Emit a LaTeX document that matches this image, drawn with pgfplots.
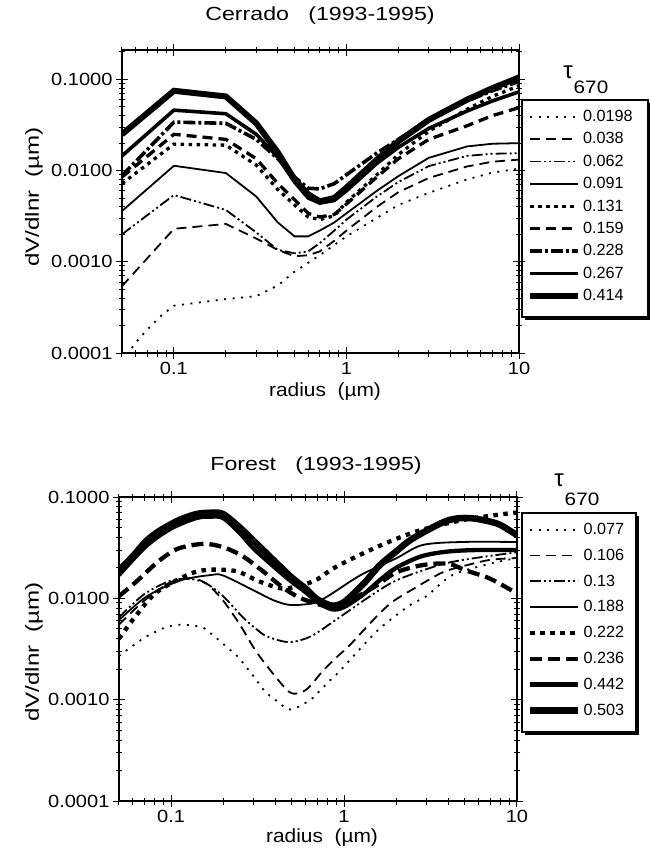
\documentclass[border=0pt]{standalone}
\usepackage{pgfplots}
\pgfplotsset{compat=1.18}
\usepackage{graphicx}
\usepackage{fontspec}
\setmainfont{Liberation Sans}
\newcommand\sx[2]{\scalebox{#1}[1]{#2}}
\tikzset{
 tdot/.style={black,line width=1.8pt, dash pattern=on 2pt off 6.5pt},
 tdash/.style={black,line width=1.8pt, dash pattern=on 10pt off 6pt},
 tdd/.style={black,line width=1.8pt, dash pattern=on 11pt off 3pt on 2pt off 3pt on 2pt off 3pt},
 tsol/.style={black,line width=1.8pt},
 Tdot/.style={black,line width=3.3pt, dash pattern=on 3.5pt off 4.5pt},
 Tdash/.style={black,line width=3.3pt, dash pattern=on 10pt off 6pt},
 Tdd/.style={black,line width=3.6pt, dash pattern=on 12pt off 3pt on 3pt off 3pt},
 Tsol/.style={black,line width=3.6pt},
 TTsol/.style={black,line width=6pt},
 Fdot/.style={black,line width=4.3pt, dash pattern=on 4.5pt off 5.5pt},
 Fdash/.style={black,line width=4.3pt, dash pattern=on 12pt off 6pt},
 Fsol/.style={black,line width=4.3pt},
 FFsol/.style={black,line width=6.5pt},
}
\begin{document}
\begin{tikzpicture}
\path[use as bounding box] (0pt,0pt) rectangle (649pt,-853pt);
% legend frames with shadow
\fill[black] (525pt,-103pt) rectangle (651pt,-320pt);
\draw[line width=1.4pt, fill=white] (522pt,-100pt) rectangle (648pt,-317pt);
\fill[black] (525pt,-516pt) rectangle (639pt,-735pt);
\draw[line width=1.4pt, fill=white] (522pt,-513pt) rectangle (636pt,-732pt);
% ---------- Cerrado ----------
\begin{axis}[at={(122pt,-353pt)}, anchor=south west, width=397pt, height=303pt,
 scale only axis, xmode=log, ymode=log, xmin=0.05, xmax=10,
 ymin=0.0001, ymax=0.21,
 axis line style={line width=1.4pt},
 xtick={0.1,1,10}, xticklabels={\sx{1.14}{0.1},\sx{1.14}{1},\sx{1.14}{10}},
 minor xtick={0.05,0.06,0.07,0.08,0.09,0.2,0.3,0.4,0.5,0.6,0.7,0.8,0.9,2,3,4,5,6,7,8,9},
 ytick={0.0001,0.001,0.01,0.1}, yticklabels={\sx{1.14}{0.0001},\sx{1.14}{0.0010},\sx{1.14}{0.0100},\sx{1.14}{0.1000}},
 minor ytick={0.0002,0.0003,0.0004,0.0005,0.0006,0.0007,0.0008,0.0009,0.002,0.003,0.004,0.005,0.006,0.007,0.008,0.009,0.02,0.03,0.04,0.05,0.06,0.07,0.08,0.09,0.2},
 tick align=center, major tick length=12pt, minor tick length=7pt,
 tick style={black, line width=1pt},
 ticklabel style={font=\fontsize{17.6}{17.6}\selectfont},
 legend image code/.code={\draw[#1] (0pt,0pt) -- (48pt,0pt);},
 legend cell align=left,
 legend style={at={(1,1)}, anchor=north west, xshift=3pt, yshift=-50pt, draw=none, fill=none,
  font=\fontsize{16.2}{16.2}\selectfont, inner xsep=5pt, inner ysep=8pt, row sep=5.6pt}]
\addplot[tdot] coordinates {(0.05,0.00008) (0.06,0.00013) (0.07,0.00018) (0.085,0.00026) (0.1,0.00033) (0.2,0.00039) (0.3,0.00042) (0.4,0.00055) (0.5,0.00078) (0.7,0.00118) (1,0.0019) (2,0.0042) (3,0.0057) (5,0.008) (7,0.0095) (10,0.0105)};
\addlegendentry{0.0198}
\addplot[tdash] coordinates {(0.05,0.00054) (0.1,0.0023) (0.2,0.0026) (0.3,0.0018) (0.4,0.00135) (0.5,0.00115) (0.6,0.00118) (0.7,0.0013) (0.85,0.0017) (1,0.0022) (1.5,0.0040) (2,0.0058) (3,0.0083) (5,0.0111) (7,0.0125) (10,0.0132)};
\addlegendentry{0.038}
\addplot[tdd] coordinates {(0.05,0.0020) (0.1,0.0054) (0.2,0.0037) (0.3,0.0021) (0.4,0.00135) (0.5,0.00124) (0.6,0.0013) (0.7,0.0016) (0.85,0.0022) (1,0.0029) (1.5,0.0052) (2,0.0075) (3,0.0112) (5,0.0145) (7,0.0153) (10,0.0155)};
\addlegendentry{0.062}
\addplot[tsol] coordinates {(0.05,0.0036) (0.1,0.0113) (0.2,0.0094) (0.3,0.0052) (0.4,0.0027) (0.5,0.0019) (0.6,0.0019) (0.7,0.0022) (0.85,0.0027) (1,0.0034) (1.5,0.006) (2,0.0087) (3,0.0138) (5,0.0184) (7,0.0197) (10,0.020)};
\addlegendentry{0.091}
\addplot[Tdot] coordinates {(0.05,0.0072) (0.1,0.0195) (0.2,0.019) (0.3,0.0115) (0.4,0.0062) (0.5,0.0042) (0.6,0.0031) (0.7,0.0029) (0.85,0.0032) (1,0.0045) (1.5,0.009) (2,0.015) (3,0.027) (5,0.047) (7,0.065) (10,0.085)};
\addlegendentry{0.131}
\addplot[Tdash] coordinates {(0.05,0.0085) (0.1,0.025) (0.2,0.022) (0.3,0.0135) (0.4,0.0072) (0.5,0.0048) (0.6,0.0034) (0.7,0.0031) (0.85,0.0033) (1,0.0043) (1.5,0.0085) (2,0.0135) (3,0.022) (5,0.031) (7,0.040) (10,0.049)};
\addlegendentry{0.159}
\addplot[Tdd] coordinates {(0.05,0.0088) (0.1,0.034) (0.2,0.033) (0.3,0.022) (0.4,0.0135) (0.5,0.0085) (0.6,0.0064) (0.7,0.0063) (0.85,0.0072) (1,0.009) (1.5,0.0156) (2,0.022) (3,0.036) (5,0.058) (7,0.075) (10,0.095)};
\addlegendentry{0.228}
\addplot[Tsol] coordinates {(0.05,0.0145) (0.1,0.046) (0.2,0.042) (0.3,0.025) (0.4,0.014) (0.5,0.0075) (0.6,0.005) (0.7,0.0044) (0.85,0.0047) (1,0.006) (1.5,0.012) (2,0.018) (3,0.029) (5,0.045) (7,0.058) (10,0.073)};
\addlegendentry{0.267}
\addplot[TTsol] coordinates {(0.05,0.025) (0.1,0.075) (0.2,0.065) (0.3,0.033) (0.4,0.0158) (0.5,0.008) (0.6,0.0055) (0.7,0.0046) (0.85,0.0050) (1,0.0065) (1.5,0.0132) (2,0.021) (3,0.036) (5,0.060) (7,0.080) (10,0.105)};
\addlegendentry{0.414}
\end{axis}
% ---------- Forest ----------
\begin{axis}[at={(119pt,-801pt)}, anchor=south west, width=398pt, height=304pt,
 scale only axis, xmode=log, ymode=log, xmin=0.05, xmax=10,
 ymin=0.0001, ymax=0.1,
 axis line style={line width=1.4pt},
 xtick={0.1,1,10}, xticklabels={\sx{1.14}{0.1},\sx{1.14}{1},\sx{1.14}{10}},
 minor xtick={0.05,0.06,0.07,0.08,0.09,0.2,0.3,0.4,0.5,0.6,0.7,0.8,0.9,2,3,4,5,6,7,8,9},
 ytick={0.0001,0.001,0.01,0.1}, yticklabels={\sx{1.14}{0.0001},\sx{1.14}{0.0010},\sx{1.14}{0.0100},\sx{1.14}{0.1000}},
 minor ytick={0.0002,0.0003,0.0004,0.0005,0.0006,0.0007,0.0008,0.0009,0.002,0.003,0.004,0.005,0.006,0.007,0.008,0.009,0.02,0.03,0.04,0.05,0.06,0.07,0.08,0.09},
 tick align=center, major tick length=12pt, minor tick length=7pt,
 tick style={black, line width=1pt},
 ticklabel style={font=\fontsize{17.6}{17.6}\selectfont},
 legend image code/.code={\draw[#1] (0pt,0pt) -- (48pt,0pt);},
 legend cell align=left,
 legend style={at={(1,1)}, anchor=north west, xshift=5pt, yshift=-16pt, draw=none, fill=none,
  font=\fontsize{16.2}{16.2}\selectfont, inner xsep=5pt, inner ysep=8pt, row sep=9pt}]
\addplot[tdot, smooth] coordinates {(0.05,0.0027) (0.06,0.0034) (0.072,0.0042) (0.094,0.0052) (0.115,0.0055) (0.15,0.0052) (0.17,0.0045) (0.215,0.0032) (0.246,0.0026) (0.3,0.0017) (0.35,0.0012) (0.4,0.001) (0.49,0.0008) (0.64,0.001) (0.73,0.00124) (0.83,0.00155) (0.94,0.0019) (1.5,0.0045) (2,0.0068) (2.49,0.0089) (3,0.0105) (4.24,0.017) (7,0.022) (10,0.025)};
\addlegendentry{0.077}
\addplot[tdash, smooth] coordinates {(0.05,0.0055) (0.07,0.0095) (0.1,0.0145) (0.13,0.0158) (0.16,0.014) (0.2,0.0095) (0.25,0.0055) (0.31,0.0030) (0.4,0.0017) (0.48,0.0012) (0.54,0.00115) (0.62,0.0013) (0.75,0.0019) (0.9,0.0026) (1.07,0.0034) (1.5,0.0063) (1.9,0.0092) (2.6,0.0128) (3.7,0.018) (5,0.021) (7,0.024) (10,0.025)};
\addlegendentry{0.106}
\addplot[tdd, smooth] coordinates {(0.05,0.0065) (0.07,0.011) (0.1,0.015) (0.13,0.0155) (0.16,0.014) (0.2,0.0105) (0.26,0.0065) (0.31,0.005) (0.36,0.0042) (0.48,0.0037) (0.64,0.0042) (0.88,0.006) (1.38,0.0102) (2,0.015) (3.55,0.0213) (5.3,0.0245) (10,0.0285)};
\addlegendentry{0.13}
\addplot[tsol, smooth] coordinates {(0.05,0.0061) (0.072,0.0104) (0.113,0.015) (0.17,0.017) (0.2,0.0168) (0.3,0.012) (0.39,0.0096) (0.49,0.0086) (0.67,0.009) (0.82,0.0107) (1.25,0.017) (2,0.0248) (2.84,0.0336) (4.8,0.036) (10,0.036)};
\addlegendentry{0.188}
\addplot[Fdot, smooth] coordinates {(0.05,0.0040) (0.062,0.0066) (0.08,0.011) (0.104,0.0146) (0.135,0.018) (0.17,0.0192) (0.24,0.0185) (0.32,0.0148) (0.44,0.0125) (0.57,0.0135) (0.7,0.0154) (0.9,0.0205) (1.56,0.0323) (2.66,0.0461) (4.85,0.0593) (9,0.069) (10,0.070)};
\addlegendentry{0.222}
\addplot[Fdash, smooth] coordinates {(0.05,0.0105) (0.064,0.015) (0.085,0.0234) (0.11,0.031) (0.154,0.0345) (0.2,0.032) (0.26,0.026) (0.34,0.0185) (0.44,0.0129) (0.55,0.0102) (0.7,0.0088) (0.85,0.0082) (1,0.0088) (1.5,0.013) (2,0.018) (2.85,0.0213) (4,0.022) (5,0.019) (6.9,0.0158) (9.3,0.012) (10,0.0112)};
\addlegendentry{0.236}
\addplot[Fsol, smooth] coordinates {(0.05,0.017) (0.072,0.033) (0.1,0.049) (0.14,0.062) (0.17,0.064) (0.2,0.062) (0.25,0.044) (0.3,0.031) (0.4,0.020) (0.5,0.0145) (0.6,0.0115) (0.7,0.0092) (0.85,0.0078) (1,0.0082) (1.3,0.011) (1.6,0.015) (2,0.020) (2.8,0.026) (4,0.029) (6,0.030) (10,0.030)};
\addlegendentry{0.442}
\addplot[FFsol, smooth] coordinates {(0.05,0.019) (0.06,0.026) (0.072,0.037) (0.085,0.046) (0.1,0.054) (0.113,0.06) (0.14,0.068) (0.17,0.07) (0.2,0.068) (0.25,0.05) (0.3,0.037) (0.4,0.023) (0.5,0.016) (0.6,0.0125) (0.7,0.0098) (0.85,0.0085) (1,0.0092) (1.3,0.014) (1.6,0.021) (2,0.029) (2.5,0.039) (3.9,0.058) (5.3,0.062) (7.6,0.055) (9.2,0.046) (10,0.042)};
\addlegendentry{0.503}
\end{axis}
% ---------- texts ----------
\node[font=\fontsize{19}{19}\selectfont] at (320pt,-16pt) {\sx{1.22}{Cerrado\ \ \ (1993-1995)}};
\node[font=\fontsize{19}{19}\selectfont] at (316pt,-466pt) {\sx{1.22}{Forest\ \ \ (1993-1995)}};
\node[font=\fontsize{19}{19}\selectfont] at (325pt,-392pt) {\sx{1.1}{radius\ \ (µm)}};
\node[font=\fontsize{19}{19}\selectfont] at (322pt,-838pt) {\sx{1.1}{radius\ \ (µm)}};
\node[font=\fontsize{19}{19}\selectfont, rotate=90] at (34pt,-197pt) {\sx{1.27}{dV/dlnr\ \ (µm)}};
\node[font=\fontsize{19}{19}\selectfont, rotate=90] at (34pt,-652pt) {\sx{1.27}{dV/dlnr\ \ (µm)}};
\node[font=\fontsize{24}{24}\selectfont] at (568pt,-72pt) {τ};
\node[font=\fontsize{18}{18}\selectfont] at (591pt,-87pt) {\sx{1.15}{670}};
\node[font=\fontsize{24}{24}\selectfont] at (559pt,-480pt) {τ};
\node[font=\fontsize{18}{18}\selectfont] at (582pt,-499pt) {\sx{1.15}{670}};
\end{tikzpicture}
\end{document}
